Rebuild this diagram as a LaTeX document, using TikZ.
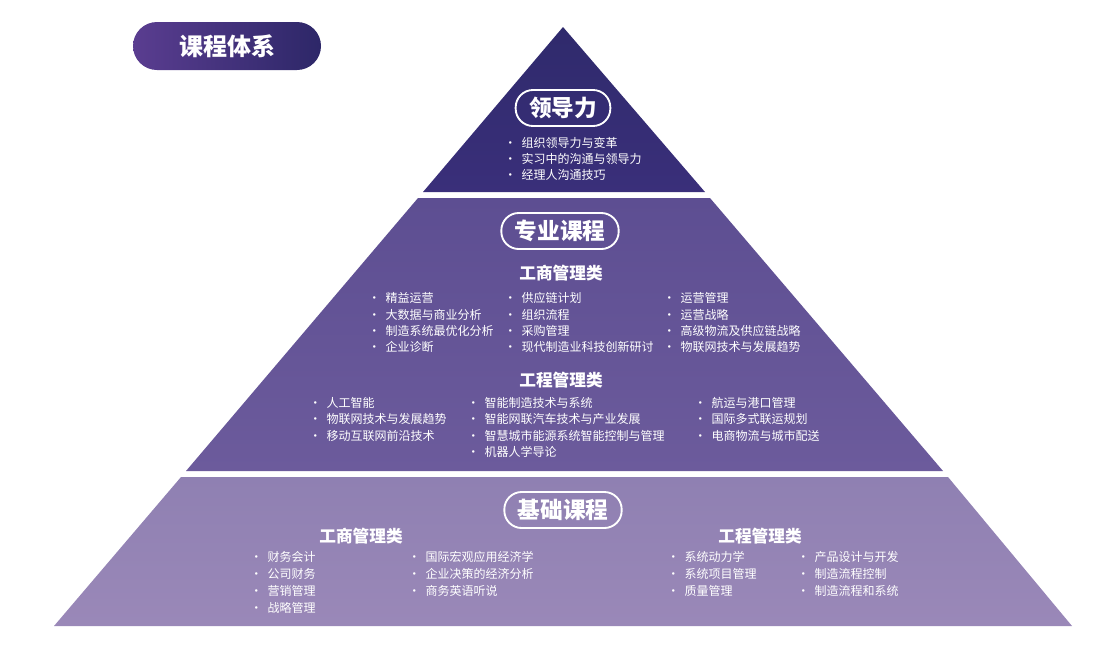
\documentclass[tikz,border=0pt]{standalone}
\usepackage{fontspec}
\setmainfont{Noto Sans CJK SC}
\usetikzlibrary{shadings}
\definecolor{topc}{HTML}{2F2A6C}
\definecolor{topc2}{HTML}{3A2F7A}
\definecolor{midc}{HTML}{5D4E92}
\definecolor{midc2}{HTML}{6C5B9C}
\definecolor{botc}{HTML}{8F80B2}
\definecolor{botc2}{HTML}{9A88B8}
\definecolor{ttl}{HTML}{5A3D90}
\definecolor{ttr}{HTML}{2D2768}
\tikzset{
 itm/.style={anchor=west,text=white,font=\fontsize{9}{10}\selectfont,inner sep=0pt},
 hdr/.style={text=white,font=\bfseries\fontsize{12.5}{13}\selectfont,inner sep=0pt},
 pill/.style={draw=white,line width=1.4pt,rounded corners=13pt,text=white,font=\bfseries\fontsize{17}{18}\selectfont,minimum height=27pt,inner xsep=10pt,inner ysep=0pt}
}
\newcommand{\bl}{•\hspace{4pt}}
\begin{document}
\begin{tikzpicture}[x=0.75pt,y=-0.75pt]
\useasboundingbox (0,0) rectangle (1116,665);
% tiers
\shade[top color=topc,bottom color=topc2] (563,27) -- (705,192) -- (423,192) -- cycle;
\shade[top color=midc,bottom color=midc2] (418,198) -- (710,198) -- (943,471) -- (186,471) -- cycle;
\shade[top color=botc,bottom color=botc2] (181,477) -- (948,477) -- (1072,626) -- (54,626) -- cycle;
% title
\shade[left color=ttl,right color=ttr,rounded corners=18pt] (133,22) rectangle (321,70);
\node[text=white,font=\bfseries\fontsize{18}{19}\selectfont] (title) at (227,46) {课程体系};
% top
\node[pill] (p1) at (563,108) {领导力};
\node[itm] (l1) at (504,143) {\bl 组织领导力与变革};
\node[itm] (l2) at (504,159) {\bl 实习中的沟通与领导力};
\node[itm] (l3) at (504,175) {\bl 经理人沟通技巧};
% middle
\node[pill] (p2) at (560,231) {专业课程};
\node[hdr] (h1) at (561,273) {工商管理类};
\foreach \t [count=\i] in {精益运营,大数据与商业分析,制造系统最优化分析,企业诊断}
 \node[itm] (a\i) at (368,282+16.3*\i) {\bl \t};
\foreach \t [count=\i] in {供应链计划,组织流程,采购管理,现代制造业科技创新研讨}
 \node[itm] (b\i) at (504,282+16.3*\i) {\bl \t};
\foreach \t [count=\i] in {运营管理,运营战略,高级物流及供应链战略,物联网技术与发展趋势}
 \node[itm] (c\i) at (663,282+16.3*\i) {\bl \t};
\node[hdr] (h2) at (561,380) {工程管理类};
\foreach \t [count=\i] in {人工智能,物联网技术与发展趋势,移动互联网前沿技术}
 \node[itm] (d\i) at (309,386.7+16.3*\i) {\bl \t};
\foreach \t [count=\i] in {智能制造技术与系统,智能网联汽车技术与产业发展,智慧城市能源系统智能控制与管理,机器人学导论}
 \node[itm] (e\i) at (467,386.7+16.3*\i) {\bl \t};
\foreach \t [count=\i] in {航运与港口管理,国际多式联运规划,电商物流与城市配送}
 \node[itm] (f\i) at (694,386.7+16.3*\i) {\bl \t};
% bottom
\node[pill] (p3) at (563,510) {基础课程};
\node[hdr] (h3) at (361,536) {工商管理类};
\foreach \t [count=\i] in {财务会计,公司财务,营销管理,战略管理}
 \node[itm] (g\i) at (250,540+17*\i) {\bl \t};
\foreach \t [count=\i] in {国际宏观应用经济学,企业决策的经济分析,商务英语听说}
 \node[itm] (k\i) at (408,540+17*\i) {\bl \t};
\node[hdr] (h4) at (760,536) {工程管理类};
\foreach \t [count=\i] in {系统动力学,系统项目管理,质量管理}
 \node[itm] (m\i) at (667,540+17*\i) {\bl \t};
\foreach \t [count=\i] in {产品设计与开发,制造流程控制,制造流程和系统}
 \node[itm] (n\i) at (797,540+17*\i) {\bl \t};
\end{tikzpicture}
\end{document}
